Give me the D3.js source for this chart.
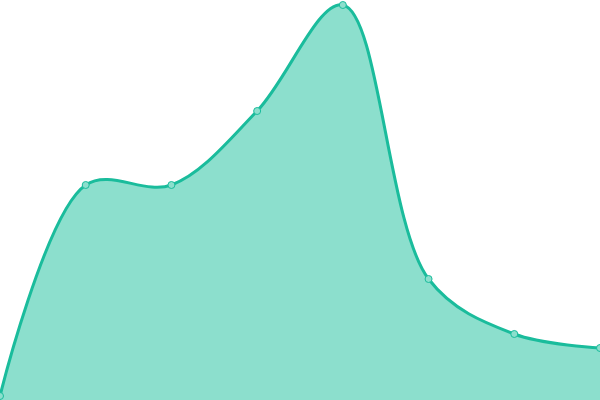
<!DOCTYPE html>
<html>
<head>
<meta charset="utf-8">
<script src="https://cdn.jsdelivr.net/npm/d3@7"></script>
<style>
  body { margin: 0; background: #fff; }
  svg { display: block; }
</style>
</head>
<body>
<script>
// data
var categories = [0, 1, 2, 3, 4, 5, 6, 7];
var values = [1, 53.75, 53.75, 72.25, 98.75, 30.25, 16.5, 13];

var svgWidth = 600;
var svgHeight = 400;

var svg = d3.select("body")
  .append("svg")
  .attr("width", svgWidth)
  .attr("height", svgHeight);

var xScale = d3.scaleLinear()
  .domain([0, categories.length - 1])
  .range([0, svgWidth]);

var yScale = d3.scaleLinear()
  .domain([0, 100])
  .range([svgHeight, 0]);

var points = categories.map((c, i) => ({ x: c, y: values[i] }));

var area = d3.area()
  .x(d => xScale(d.x))
  .y0(yScale(0))
  .y1(d => yScale(d.y))
  .curve(d3.curveCatmullRom);

var line = d3.line()
  .x(d => xScale(d.x))
  .y(d => yScale(d.y))
  .curve(d3.curveCatmullRom);

svg.append("path")
  .datum(points)
  .attr("d", area)
  .attr("fill", "#8cdfcd");

svg.append("path")
  .datum(points)
  .attr("d", line)
  .attr("fill", "none")
  .attr("stroke", "#1abc9c")
  .attr("stroke-width", 3);

svg.selectAll("circle")
  .data(points)
  .enter()
  .append("circle")
  .attr("cx", d => xScale(d.x))
  .attr("cy", d => yScale(d.y))
  .attr("r", 3.5)
  .attr("fill", "#8cdfcd")
  .attr("stroke", "#1abc9c")
  .attr("stroke-width", 1);
</script>
</body>
</html>
